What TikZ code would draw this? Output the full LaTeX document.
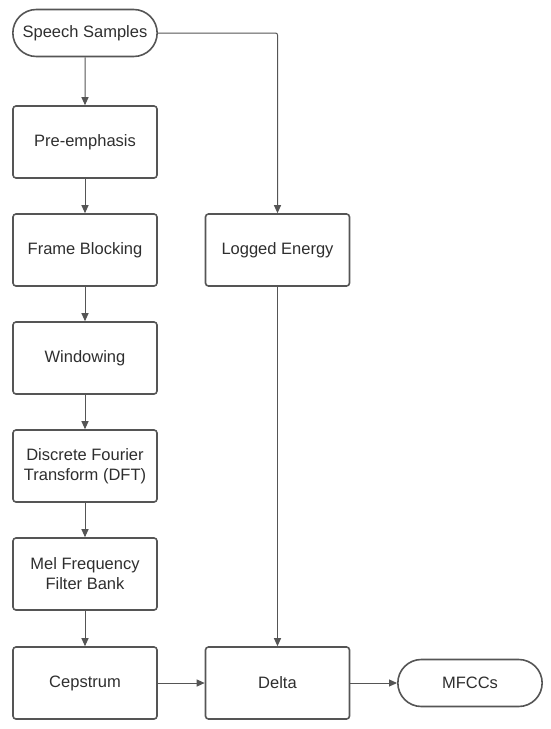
\documentclass[tikz,border=0pt]{standalone}
\usepackage{fontspec}
\setmainfont{Liberation Sans}
\usetikzlibrary{arrows.meta,shapes.misc}
\definecolor{linegray}{HTML}{555555}
\definecolor{textgray}{HTML}{2E2E2E}

\begin{document}
\begin{tikzpicture}[x=1pt,y=-1pt,line width=1pt]
   \useasboundingbox (0,0) rectangle (550,729);
   \tikzstyle{stage}=[rectangle, rounded corners=3pt, minimum width=144pt, minimum height=72pt, draw=linegray, line width=1.6pt, align=center, text=textgray, font=\fontsize{16.5}{20}\selectfont]
   \tikzstyle{terminal}=[rounded rectangle, minimum width=151pt, minimum height=47pt, draw=linegray, line width=1.6pt, text=textgray, font=\fontsize{16.5}{20}\selectfont]
   \tikzstyle{flow}=[draw=linegray, line width=1pt, arrows={-Triangle[length=8pt,width=7pt]}]
   \node[terminal] (speech) at (85,33) {Speech Samples};
   \foreach \y/\name/\txt in {142/pre/{Pre-emphasis},250/frame/{Frame Blocking},358/window/{Windowing},466/dft/{Discrete Fourier\\Transform (DFT)},574/mel/{Mel Frequency\\Filter Bank},683/cep/{Cepstrum}} {
       \node[stage] (\name) at (85,\y) {\txt};
   }
   \node[stage] (energy) at (277.5,250) {Logged Energy};
   \node[stage] (delta) at (277.5,683) {Delta};
   \node[terminal] (mfcc) at (470,683) {MFCCs};
   \foreach \a/\b in {speech/pre,pre/frame,frame/window,window/dft,dft/mel,mel/cep,cep/delta,delta/mfcc,energy/delta} {
       \path[flow] (\a) -- (\b);
   }
   \path[flow, rounded corners=2pt] (speech.east) -| (energy.north);
\end{tikzpicture}
\end{document}
